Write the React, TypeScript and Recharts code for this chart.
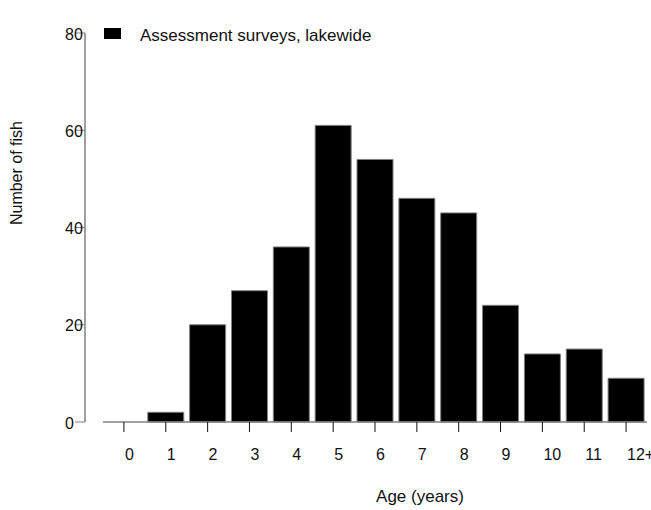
import React from "react";
import { BarChart, Bar, XAxis, YAxis, Legend } from "recharts";

const AGES = ["0", "1", "2", "3", "4", "5", "6", "7", "8", "9", "10", "11", "12+"];
const FISH_COUNTS = [0, 2, 20, 27, 36, 61, 54, 46, 43, 24, 14, 15, 9];
const Y_TICKS = [0, 20, 40, 60, 80];
const SERIES_NAME = "Assessment surveys, lakewide";

const data = AGES.map((age, i) => ({ age, count: FISH_COUNTS[i] }));

const FONT = "Arial, 'Liberation Sans', sans-serif";
const AXIS_GRAY = "#808080";
const TEXT = "#111";

// x labels sit start-aligned just right of their tick
const AgeTick = (props: any) => {
  const { x, y, payload } = props;
  return (
    <text x={x + 1} y={y + 28} textAnchor="start" fontSize={16} fontFamily={FONT} fill={TEXT}>
      {payload.value}
    </text>
  );
};

// y labels are start-aligned too, left of the detached axis line
const CountTick = (props: any) => {
  const { x, y, payload } = props;
  return (
    <text x={x - 28} y={y + 1} dy="0.35em" textAnchor="start" fontSize={16} fontFamily={FONT} fill={TEXT}>
      {payload.value}
    </text>
  );
};

const XTitle = (props: any) => {
  const vb = props.viewBox || {};
  const cx = (vb.x ?? 103) + (vb.width ?? 544) / 2 + 45;
  const cy = (vb.y ?? 422) + (vb.height ?? 88) - 8;
  return (
    <text x={cx} y={cy} textAnchor="middle" fontSize={17} fontFamily={FONT} fill={TEXT}>
      Age (years)
    </text>
  );
};

const YTitle = (props: any) => {
  const vb = props.viewBox || {};
  const cx = 22;
  const cy = (vb.y ?? 13) + (vb.height ?? 409) * 0.36;
  return (
    <text
      x={cx}
      y={cy}
      textAnchor="middle"
      fontSize={16}
      fontFamily={FONT}
      fill={TEXT}
      transform={`rotate(-90, ${cx}, ${cy})`}
    >
      Number of fish
    </text>
  );
};

const LegendBox = () => (
  <div style={{ display: "flex", alignItems: "flex-start", fontFamily: FONT, fontSize: 17, lineHeight: "20px", color: TEXT }}>
    <span style={{ display: "inline-block", width: 17, height: 11, marginTop: 2, background: "#000", marginRight: 19 }} />
    <span style={{ whiteSpace: "nowrap" }}>{SERIES_NAME}</span>
  </div>
);

export default function App() {
  return (
    <div style={{ position: "absolute", left: 0, top: 0, width: 651, height: 510, background: "#fff", overflow: "hidden" }}>
      <BarChart width={651} height={510} data={data} margin={{ top: 13, right: 4, bottom: 0, left: 0 }} barCategoryGap="7%">
        <XAxis
          dataKey="age"
          height={88}
          axisLine={{ stroke: AXIS_GRAY, strokeWidth: 1.5 }}
          tickLine={{ stroke: TEXT }}
          tickSize={10}
          tickMargin={0}
          tick={<AgeTick />}
          interval={0}
          label={<XTitle />}
        />
        <YAxis
          width={103}
          domain={[0, 80]}
          ticks={Y_TICKS}
          axisLine={{ stroke: AXIS_GRAY, strokeWidth: 1.5, transform: "translate(-18,0)" }}
          tickLine={{ stroke: AXIS_GRAY, transform: "translate(-18,0)" }}
          tickSize={10}
          tickMargin={0}
          tick={<CountTick />}
          label={<YTitle />}
        />
        <Legend
          verticalAlign="top"
          align="left"
          content={<LegendBox />}
          wrapperStyle={{ position: "absolute", top: 26, left: 104, width: "auto" }}
        />
        <Bar dataKey="count" name={SERIES_NAME} fill="#000" stroke={AXIS_GRAY} strokeWidth={1} isAnimationActive={false} />
      </BarChart>
    </div>
  );
}
